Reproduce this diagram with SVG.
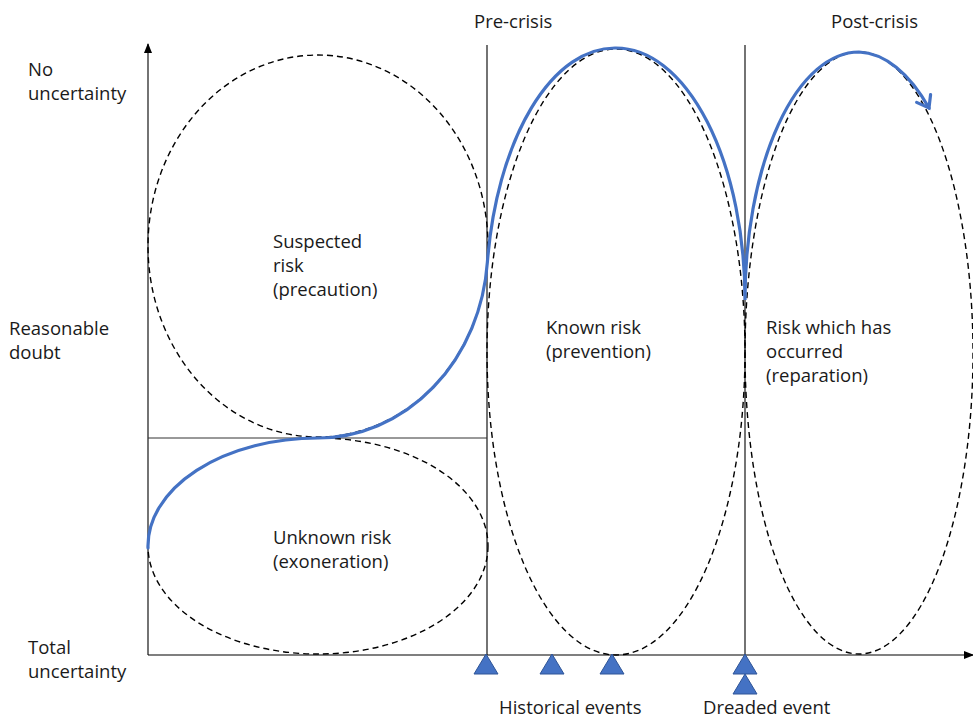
<svg xmlns="http://www.w3.org/2000/svg" width="973" height="718" viewBox="0 0 973 718">
<defs>
<marker id="axhead" markerWidth="10" markerHeight="10" refX="9" refY="5" orient="auto" markerUnits="userSpaceOnUse">
<path d="M0,1 L10,5 L0,9 Z" fill="#000"/>
</marker>
<marker id="openhead" markerWidth="24" markerHeight="24" refX="14" refY="10" orient="auto" markerUnits="userSpaceOnUse">
<path d="M3,2 L14,10 L3,18" fill="none" stroke="#4472C4" stroke-width="3.2" stroke-linejoin="miter" stroke-linecap="round"/>
</marker>
<style>
.t{font-family:"Open Sans","Noto Sans",sans-serif;font-size:18.5px;fill:#1a1a1a}
.dash{fill:none;stroke:#000;stroke-width:1.4;stroke-dasharray:6 4}
.ax{stroke:#000;stroke-width:1.1;fill:none}
.blue{fill:none;stroke:#4472C4;stroke-width:3.2;stroke-linecap:round}
.tri{fill:#4472C4;stroke:#2F5597;stroke-width:1}
</style>
</defs>
<rect width="973" height="718" fill="#fff"/>
<g id="axes">
<line class="ax" x1="148" y1="655" x2="148" y2="44" marker-end="url(#axhead)"/>
<line class="ax" x1="148" y1="655" x2="973" y2="655" marker-end="url(#axhead)"/>
<line class="ax" x1="487" y1="45" x2="487" y2="655"/>
<line class="ax" x1="745" y1="45" x2="745" y2="655"/>
<line x1="148" y1="438" x2="487" y2="438" stroke="#333" stroke-width="1"/>
</g>
<g id="suspected">
<ellipse class="dash" cx="318" cy="246" rx="170" ry="191"/>
<text class="t" x="273" y="248">Suspected</text>
<text class="t" x="273" y="272">risk</text>
<text class="t" x="273" y="296">(precaution)</text>
</g>
<g id="unknown">
<ellipse class="dash" cx="318" cy="546" rx="170" ry="108"/>
<text class="t" x="273" y="544">Unknown risk</text>
<text class="t" x="273" y="568">(exoneration)</text>
</g>
<g id="known">
<ellipse class="dash" cx="616" cy="352" rx="129" ry="303"/>
<text class="t" x="546" y="334">Known risk</text>
<text class="t" x="546" y="358">(prevention)</text>
</g>
<g id="occurred">
<ellipse class="dash" cx="859" cy="353" rx="114" ry="301"/>
<text class="t" x="766" y="334">Risk which has</text>
<text class="t" x="766" y="358">occurred</text>
<text class="t" x="766" y="382">(reparation)</text>
</g>
<g id="connectors">
<path class="blue" d="M148,548 A170,108 0 0 1 318,438 A170,191 0 0 0 487.4,262 A129,252 0 0 1 616,48 A129,252 0 0 1 745,300 A114,248 0 0 1 859,52 A114,248 0 0 1 929,108" marker-end="url(#openhead)"/>
</g>
<g id="labels">
<text class="t" x="474" y="28">Pre-crisis</text>
<text class="t" x="831" y="28">Post-crisis</text>
<text class="t" x="28" y="76">No</text>
<text class="t" x="28" y="100">uncertainty</text>
<text class="t" x="9" y="335">Reasonable</text>
<text class="t" x="9" y="359">doubt</text>
<text class="t" x="28" y="654">Total</text>
<text class="t" x="28" y="678">uncertainty</text>
<text class="t" x="499" y="714">Historical events</text>
<text class="t" x="703" y="714">Dreaded event</text>
</g>
<g id="events">
<polygon class="tri" points="486,654 498,674 474,674"/>
<polygon class="tri" points="552,654 564,674 540,674"/>
<polygon class="tri" points="612,654 624,674 600,674"/>
<polygon class="tri" points="745,654 757,674 733,674"/>
<polygon class="tri" points="745,674 757,694 733,694"/>
</g>
</svg>
